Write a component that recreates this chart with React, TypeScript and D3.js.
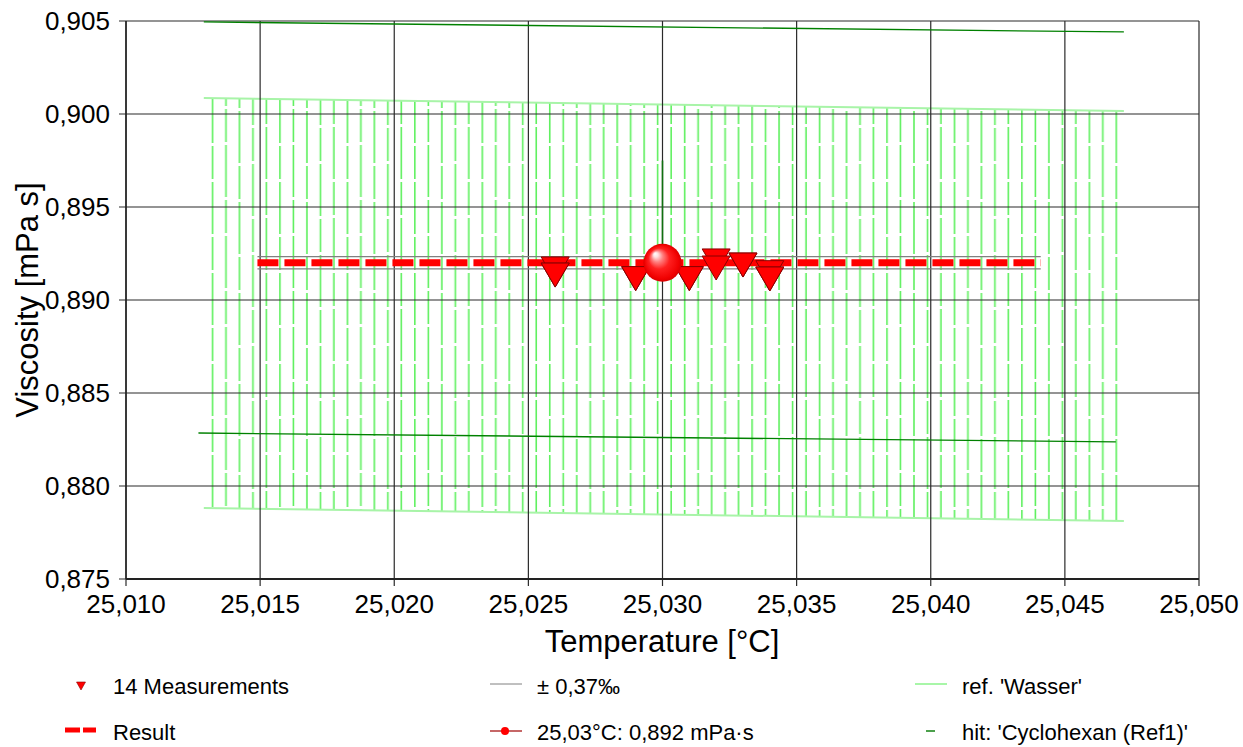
import * as d3 from "d3";

// ---------------------------------------------------------------------------
// Data
// ---------------------------------------------------------------------------

const X_DOMAIN = [25.01, 25.05];
const Y_DOMAIN = [0.875, 0.905];
const X_TICKS = [25.01, 25.015, 25.02, 25.025, 25.03, 25.035, 25.04, 25.045, 25.05];
const Y_TICKS = [0.875, 0.88, 0.885, 0.89, 0.895, 0.9, 0.905];

// 14 measurements: temperature / viscosity
const MEAS_T = [
  25.026, 25.026, 25.026, 25.029, 25.029, 25.031, 25.031, 25.032, 25.032, 25.033, 25.033,
  25.034, 25.034, 25.034,
];
const MEAS_V = [
  0.89167, 0.89134, 0.89134, 0.89115, 0.89115, 0.89115, 0.89115, 0.8921, 0.89172, 0.89188,
  0.89188, 0.89147, 0.89113, 0.89113,
];

// result
const RESULT_T = 25.03;
const RESULT_V = 0.892;
const RESULT_SPAN = [25.0149, 25.0441];
const TOLERANCE = 0.00037; // ± 0,37‰

// reference band 'Wasser' (upper / lower edge, left -> right)
const REF_T = [25.0129, 25.0472];
const REF_UPPER = [0.90086, 0.90016];
const REF_LOWER = [0.87882, 0.87812];

// hit 'Cyclohexan (Ref1)'
const HIT_T = [25.0129, 25.0472];
const HIT_UPPER = [0.90495, 0.90441];
const HIT_LOWER_T = [25.0127, 25.0469];
const HIT_LOWER = [0.88285, 0.88237];
const HIT_BAR = [0.8975, 0.8925];

// ---------------------------------------------------------------------------

const W = 1243;
const H = 747;
const FONT = "'Liberation Sans', Arial, sans-serif";
const HATCH_STEP = 13.49;
// dash offsets of the hatch lines, so the gaps do not line up
const HATCH_OFFSETS = [0, 37, 71, 18, 55];

const locale = d3.formatLocale({
  decimal: ",",
  thousands: ".",
  grouping: [3],
  currency: ["", ""],
});
const fmt = locale.format(".3f");

export default function App() {
  const x = d3.scaleLinear().domain(X_DOMAIN).range([126, 1199]);
  const y = d3.scaleLinear().domain(Y_DOMAIN).range([579, 21]);

  const band =
    `M${x(REF_T[0])},${y(REF_UPPER[0])}` +
    `L${x(REF_T[1])},${y(REF_UPPER[1])}` +
    `L${x(REF_T[1])},${y(REF_LOWER[1])}` +
    `L${x(REF_T[0])},${y(REF_LOWER[0])}Z`;

  const tri = "M-14,-12L14,-12L0,12Z";

  return (
    <svg
      width={W}
      height={H}
      style={{ position: "absolute", left: 0, top: 0, background: "#fff" }}
      fontFamily={FONT}
    >
      <defs>
        <pattern
          id="hatch"
          patternUnits="userSpaceOnUse"
          x={211.7}
          y={0}
          width={HATCH_STEP * HATCH_OFFSETS.length}
          height={91}
        >
          {HATCH_OFFSETS.map((o, i) => (
            <line
              key={i}
              x1={0.8 + i * HATCH_STEP}
              x2={0.8 + i * HATCH_STEP}
              y1={0}
              y2={91}
              stroke="#5ef05e"
              strokeWidth={1.6}
              strokeDasharray="52,3,33,3"
              strokeDashoffset={o}
            />
          ))}
        </pattern>
        <radialGradient id="ball" cx="0.5" cy="0.5" r="0.5" fx="0.3" fy="0.26">
          <stop offset="0" stopColor="#ffffff" />
          <stop offset="0.12" stopColor="#ffe0e0" />
          <stop offset="0.3" stopColor="#ff8080" />
          <stop offset="0.55" stopColor="#ff2020" />
          <stop offset="0.9" stopColor="#f00000" />
          <stop offset="1" stopColor="#d80000" />
        </radialGradient>
      </defs>

      {/* reference band */}
      <path d={band} fill="url(#hatch)" />
      <line x1={x(REF_T[0])} y1={y(REF_UPPER[0])} x2={x(REF_T[1])} y2={y(REF_UPPER[1])} stroke="#a8f4a8" strokeWidth={2} />
      <line x1={x(REF_T[0])} y1={y(REF_LOWER[0])} x2={x(REF_T[1])} y2={y(REF_LOWER[1])} stroke="#a8f4a8" strokeWidth={2} />

      {/* grid */}
      {Y_TICKS.map((t) => (
        <line key={"gy" + t} x1={119} x2={1199} y1={y(t)} y2={y(t)} stroke="#2a2a2a" strokeWidth={1.2} />
      ))}
      {X_TICKS.map((t) => (
        <line key={"gx" + t} x1={x(t)} x2={x(t)} y1={21} y2={586} stroke="#2a2a2a" strokeWidth={1.2} />
      ))}
      <line x1={126} x2={1199} y1={579} y2={579} stroke="#222" strokeWidth={2} />
      <line x1={126} x2={126} y1={21} y2={579} stroke="#222" strokeWidth={1.5} />

      {/* hit lines */}
      <line x1={x(HIT_T[0])} y1={y(HIT_UPPER[0])} x2={x(HIT_T[1])} y2={y(HIT_UPPER[1])} stroke="#008000" strokeWidth={1.3} />
      <line x1={x(HIT_LOWER_T[0])} y1={y(HIT_LOWER[0])} x2={x(HIT_LOWER_T[1])} y2={y(HIT_LOWER[1])} stroke="#008000" strokeWidth={1.3} />
      <line x1={x(RESULT_T)} x2={x(RESULT_T)} y1={y(HIT_BAR[0])} y2={y(HIT_BAR[1])} stroke="#107010" strokeWidth={1.6} />

      {/* tolerance lines */}
      {[1 + TOLERANCE, 1 - TOLERANCE].map((f) => (
        <line
          key={"tol" + f}
          x1={x(RESULT_SPAN[0])}
          x2={x(RESULT_SPAN[1])}
          y1={y(RESULT_V * f)}
          y2={y(RESULT_V * f)}
          stroke="#808080"
          strokeWidth={1.3}
        />
      ))}

      {/* result */}
      <line
        x1={x(RESULT_SPAN[0])}
        x2={x(RESULT_SPAN[1])}
        y1={y(RESULT_V)}
        y2={y(RESULT_V)}
        stroke="#ff0000"
        strokeWidth={7}
        strokeDasharray="21,6"
      />

      {/* measurements */}
      {MEAS_T.map((t, i) => (
        <path
          key={"m" + i}
          d={tri}
          transform={`translate(${x(t)},${y(MEAS_V[i])})`}
          fill="#ff0000"
          stroke="#8a0000"
          strokeWidth={1}
        />
      ))}

      <circle cx={x(RESULT_T)} cy={y(RESULT_V)} r={19} fill="url(#ball)" />

      {/* tick labels */}
      {Y_TICKS.map((t) => (
        <text key={"ty" + t} x={110} y={y(t) + 9} textAnchor="end" fontSize={26} fill="#000">
          {fmt(t)}
        </text>
      ))}
      {X_TICKS.map((t) => (
        <text key={"tx" + t} x={x(t)} y={613} textAnchor="middle" fontSize={26} fill="#000">
          {fmt(t)}
        </text>
      ))}

      {/* axis titles */}
      <text x={662} y={652} textAnchor="middle" fontSize={31} fill="#000">
        Temperature [°C]
      </text>
      <text transform="translate(38,300) rotate(-90)" textAnchor="middle" fontSize={31} fill="#000">
        Viscosity [mPa s]
      </text>

      {/* legend */}
      <g fontSize={22} fill="#000">
        <path d="M-4.5,-4L4.5,-4L0,4Z" transform="translate(81,686)" fill="#ff0000" stroke="#8a0000" strokeWidth={0.6} />
        <text x={113} y={694}>14 Measurements</text>

        <line x1={65} x2={80} y1={730} y2={730} stroke="#ff0000" strokeWidth={5} />
        <line x1={83} x2={96} y1={730} y2={730} stroke="#ff0000" strokeWidth={5} />
        <text x={113} y={740}>Result</text>

        <line x1={490} x2={522} y1={684} y2={684} stroke="#808080" strokeWidth={1} />
        <text x={537} y={694}>± 0,37‰</text>

        <line x1={490} x2={522} y1={731} y2={731} stroke="#a00000" strokeWidth={1.2} />
        <circle cx={505} cy={731} r={4} fill="#ff0000" />
        <text x={537} y={740}>25,03°C: 0,892 mPa·s</text>

        <line x1={915} x2={947} y1={684} y2={684} stroke="#6ef06e" strokeWidth={1.2} />
        <text x={962} y={694}>ref. 'Wasser'</text>

        <line x1={926} x2={935} y1={731} y2={731} stroke="#108010" strokeWidth={1.5} />
        <text x={962} y={740}>hit: 'Cyclohexan (Ref1)'</text>
      </g>
    </svg>
  );
}
